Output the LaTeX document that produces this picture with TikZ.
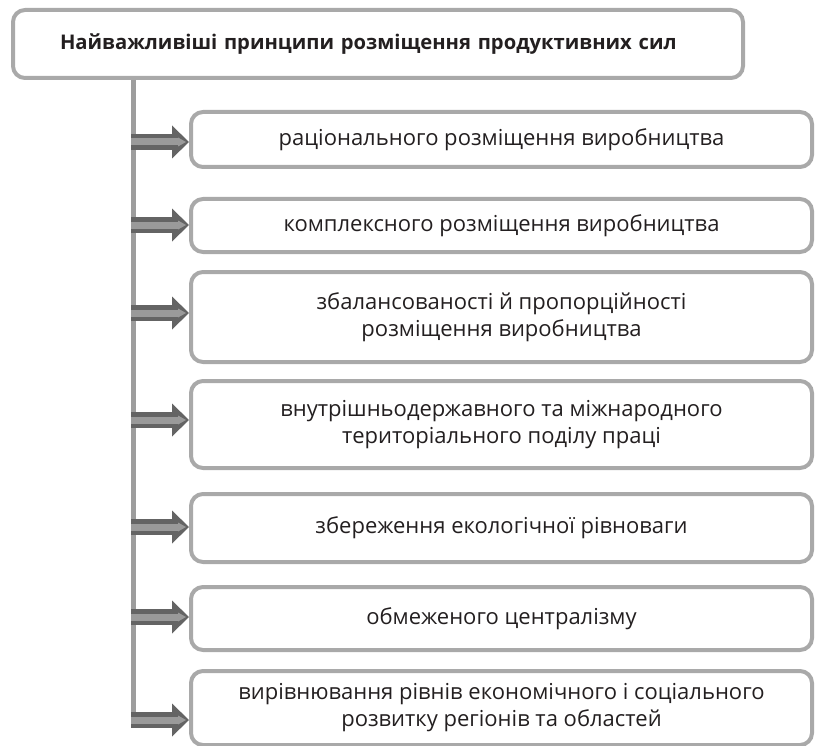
\documentclass[tikz,border=0pt]{standalone}
\usepackage{fontspec}
\setmainfont{Open Sans}
\usetikzlibrary{arrows.meta,positioning}
\definecolor{boxgray}{HTML}{A9A9A9}
\definecolor{trunkgray}{HTML}{9D9D9D}
\definecolor{arrowdark}{HTML}{646464}
\definecolor{arrowlight}{HTML}{9A9A9A}
\definecolor{txt}{HTML}{231F20}

\begin{document}
\begin{tikzpicture}[
  x=1pt, y=-1pt, font=\fontsize{22}{27}\selectfont, text=txt,
  frame/.style={rectangle, rounded corners=12pt, draw=boxgray, line width=4pt, align=center, minimum width=621pt, inner sep=0pt},
  pointerback/.style={draw=arrowdark, line width=16pt, -{Triangle[length=17pt,width=33pt,line width=0pt]}},
  pointerfront/.style={draw=arrowlight, line width=7pt, shorten >=3pt, -{Triangle[length=8pt,width=9pt,line width=0pt]}},
  trunk/.style={draw=trunkgray, line width=5pt}
]
\useasboundingbox (0,0) rectangle (816,746);
\node[frame, minimum width=730pt, minimum height=68pt, text width=636pt, align=left, font=\fontsize{20.2}{24}\selectfont\bfseries] (head) at (378,44) {Найважливіші принципи розміщення продуктивних сил};
\node[frame, minimum height=55pt, anchor=north west] (rational) at (189,110) {раціонального розміщення виробництва};
\node[frame, minimum height=53pt, below=28pt of rational] (complex) {комплексного розміщення виробництва};
\node[frame, minimum height=90pt, below=16pt of complex] (balance) {збалансованості й пропорційності\\розміщення виробництва};
\node[frame, minimum height=87pt, below=15pt of balance] (division) {внутрішньодержавного та міжнародного\\територіального поділу праці};
\node[frame, minimum height=68pt, below=22pt of division] (ecology) {збереження екологічної рівноваги};
\node[frame, minimum height=63pt, below=21pt of ecology] (central) {обмеженого централізму};
\node[frame, minimum height=74pt, below=17pt of central] (levelling) {вирівнювання рівнів економічного і соціального\\розвитку регіонів та областей};

\coordinate (trunkend) at (133,717);
\draw[trunk] (head.south -| trunkend) -- (trunkend);

\foreach \b/\y in {rational/142, complex/225, balance/313, division/420, ecology/527, central/617, levelling/720}{
  \coordinate (s\b) at (131,\y);
  \draw[pointerback] (s\b) -- (s\b -| \b.west);
  \draw[pointerfront] (s\b) -- (s\b -| \b.west);
}
\end{tikzpicture}
\end{document}
